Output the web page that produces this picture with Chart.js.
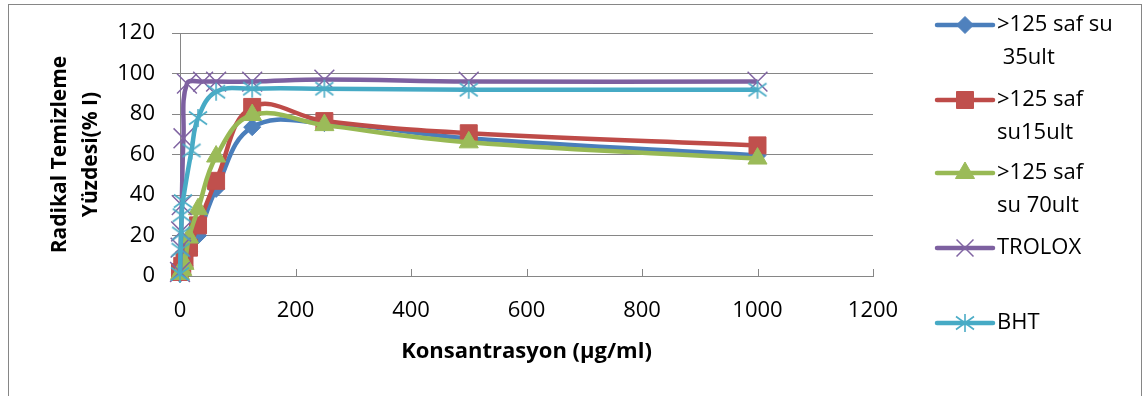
<!DOCTYPE html>
<html>
<head>
<meta charset="utf-8">
<script src="https://cdn.jsdelivr.net/npm/chart.js@4/dist/chart.umd.min.js"></script>
<style>
  html, body { margin: 0; padding: 0; background: #ffffff; }
  canvas { display: block; }
</style>
</head>
<body>
<canvas id="chart" width="1148" height="396"></canvas>
<script>
// Concentrations (µg/ml) and scavenging percentages
const concExtract = [0, 3.9, 7.8, 15.6, 31.25, 62.5, 125, 250, 500, 1000];
const su35ult = [1, 3, 5, 12, 20, 43, 73.5, 75.5, 68, 59.5];
const su15ult = [2, 5, 8, 14, 25, 47, 83.5, 76.5, 70.5, 64.5];
const su70ult = [1, 3, 6, 19, 33, 59, 79.5, 74.5, 66, 58];

const concTrolox = [0, 1, 2, 3, 6, 12, 40, 62.5, 125, 250, 500, 1000];
const troloxValues = [2, 14, 22, 35, 68, 95, 96, 96, 96, 97, 96, 96];

const concBht = [0, 1, 2, 3, 5, 20, 31.25, 62.5, 125, 250, 500, 1000];
const bhtValues = [1, 13, 21, 30, 37, 62, 78, 91, 92.5, 92.5, 92, 92];

const seriesNames = ['>125 saf su 35ult', '>125 saf su15ult', '>125 saf su 70ult', 'TROLOX', 'BHT'];
const legendLines = [['>125 saf su', ' 35ult'], ['>125 saf', 'su15ult'], ['>125 saf', 'su 70ult'], ['TROLOX'], ['BHT']];

const xTicks = [0, 200, 400, 600, 800, 1000, 1200];
const yTicks = [0, 20, 40, 60, 80, 100, 120];

const xTitle = 'Konsantrasyon (µg/ml)';
const yTitle = ['Radikal Temizleme', 'Yüzdesi(% I)'];

const FONT = '"Open Sans", "DejaVu Sans", sans-serif';
const GRID = '#868686';

function pairs(xs, ys) {
  return xs.map((x, i) => ({ x: x, y: ys[i] }));
}

// Asterisk marker: a diagonal cross plus a vertical stroke
function asteriskMarker(color, half) {
  const size = Math.ceil(half * 2 + 4);
  const c = document.createElement('canvas');
  c.width = size; c.height = size;
  const g = c.getContext('2d');
  const m = size / 2;
  g.strokeStyle = color;
  g.lineWidth = 1.6;
  g.beginPath();
  g.moveTo(m - half, m - half * 0.72); g.lineTo(m + half, m + half * 0.72);
  g.moveTo(m - half, m + half * 0.72); g.lineTo(m + half, m - half * 0.72);
  g.moveTo(m, m - half); g.lineTo(m, m + half);
  g.stroke();
  return c;
}

const bhtMarker = asteriskMarker('#4BACC6', 9);

function series(label, xs, ys, line, fill, style, radius, order) {
  return {
    label: label,
    data: pairs(xs, ys),
    showLine: true,
    borderColor: line,
    borderWidth: 4.5,
    backgroundColor: fill,
    pointBackgroundColor: fill,
    pointBorderColor: fill,
    pointBorderWidth: style === 'crossRot' ? 1.5 : 1,
    pointStyle: style,
    pointRadius: radius,
    pointHoverRadius: radius,
    tension: 0.4,
    clip: false,
    order: order
  };
}

const datasets = [
  series(seriesNames[0], concExtract, su35ult, '#4A7EBB', '#4F81BD', 'rectRot', 8.5, 4),
  series(seriesNames[1], concExtract, su15ult, '#BE4B48', '#C0504D', 'rect', 12, 3),
  series(seriesNames[2], concExtract, su70ult, '#98B954', '#9BBB59', 'triangle', 11, 2),
  series(seriesNames[3], concTrolox, troloxValues, '#7D60A0', '#8064A2', 'crossRot', 14, 1),
  series(seriesNames[4], concBht, bhtValues, '#46AAC5', '#4BACC6', bhtMarker, 9, 0)
];

// Outer frame around the whole figure
const frame = {
  id: 'frame',
  beforeDraw(chart) {
    const ctx = chart.ctx;
    ctx.save();
    ctx.fillStyle = '#ffffff';
    ctx.fillRect(0, 0, chart.width, chart.height);
    ctx.strokeStyle = GRID;
    ctx.lineWidth = 1;
    ctx.strokeRect(8.5, 4.5, 1133, 400);
    ctx.restore();
  }
};

// Short tick marks pointing up into the plot from the x axis
const innerTicks = {
  id: 'innerTicks',
  beforeDatasetsDraw(chart) {
    const ctx = chart.ctx;
    const sx = chart.scales.x;
    const bottom = chart.chartArea.bottom;
    ctx.save();
    ctx.strokeStyle = GRID;
    ctx.lineWidth = 1;
    ctx.beginPath();
    sx.ticks.forEach(t => {
      if (t.value === 0) return;
      const px = Math.round(sx.getPixelForValue(t.value)) + 0.5;
      ctx.moveTo(px, bottom);
      ctx.lineTo(px, bottom - 7);
    });
    ctx.stroke();
    ctx.restore();
  }
};

// Legend on the right with wrapped labels
const sideLegend = {
  id: 'sideLegend',
  afterDraw(chart) {
    const ctx = chart.ctx;
    const rowY = [25, 100, 173, 248, 323];
    const lineGap = 33;
    const x0 = 937, x1 = 993, tx = 997;
    ctx.save();
    chart.data.datasets.forEach((ds, i) => {
      const y = rowY[i];
      ctx.strokeStyle = ds.borderColor;
      ctx.lineWidth = 4.5;
      ctx.lineCap = 'round';
      ctx.beginPath();
      ctx.moveTo(x0, y);
      ctx.lineTo(x1, y);
      ctx.stroke();
      ctx.lineCap = 'butt';
      ctx.fillStyle = ds.pointBackgroundColor;
      ctx.strokeStyle = ds.pointBorderColor;
      ctx.lineWidth = ds.pointBorderWidth;
      const r = ds.pointStyle === 'crossRot' ? 12 : ds.pointRadius;
      Chart.helpers.drawPoint(ctx, {
        pointStyle: ds.pointStyle,
        radius: r,
        borderWidth: ds.pointBorderWidth,
        rotation: 0
      }, (x0 + x1) / 2, y);
      ctx.fillStyle = '#000000';
      ctx.font = '22px ' + FONT;
      ctx.textAlign = 'left';
      ctx.textBaseline = 'middle';
      legendLines[i].forEach((txt, k) => {
        ctx.fillText(txt, tx, y + k * lineGap);
      });
    });
    ctx.restore();
  }
};

new Chart(document.getElementById('chart'), {
  type: 'scatter',
  data: { datasets: datasets },
  plugins: [frame, innerTicks, sideLegend],
  options: {
    responsive: false,
    animation: false,
    devicePixelRatio: 1,
    layout: { padding: { left: 8, top: 33, right: 275, bottom: 0 } },
    plugins: {
      legend: { display: false },
      tooltip: { enabled: false }
    },
    scales: {
      x: {
        type: 'linear',
        min: 0,
        max: 1200,
        afterBuildTicks: s => { s.ticks = xTicks.map(v => ({ value: v })); },
        afterFit: s => { s.height = 120; },
        grid: { drawOnChartArea: false, drawTicks: false },
        border: { display: true, color: GRID, width: 1 },
        ticks: {
          color: '#000', padding: 22, maxRotation: 0,
          font: { family: FONT, size: 22 },
          callback: v => String(v)
        },
        title: {
          display: true,
          text: xTitle,
          color: '#000',
          font: { family: FONT, size: 22, weight: 'bold' },
          padding: { top: 0, bottom: 31 }
        }
      },
      y: {
        type: 'linear',
        min: 0,
        max: 120,
        afterBuildTicks: s => { s.ticks = yTicks.map(v => ({ value: v })); },
        afterFit: s => { s.width = 172; },
        grid: { color: GRID, lineWidth: 1, tickLength: 8, tickColor: GRID },
        border: { display: true, color: GRID, width: 1 },
        ticks: {
          color: '#000', padding: 17,
          font: { family: FONT, size: 22 },
          callback: v => String(v)
        },
        title: {
          display: true,
          text: yTitle,
          color: '#000',
          font: { family: FONT, size: 21, weight: 'bold', lineHeight: 1.45 },
          padding: { top: 37, bottom: 0 }
        }
      }
    }
  }
});
</script>
</body>
</html>
